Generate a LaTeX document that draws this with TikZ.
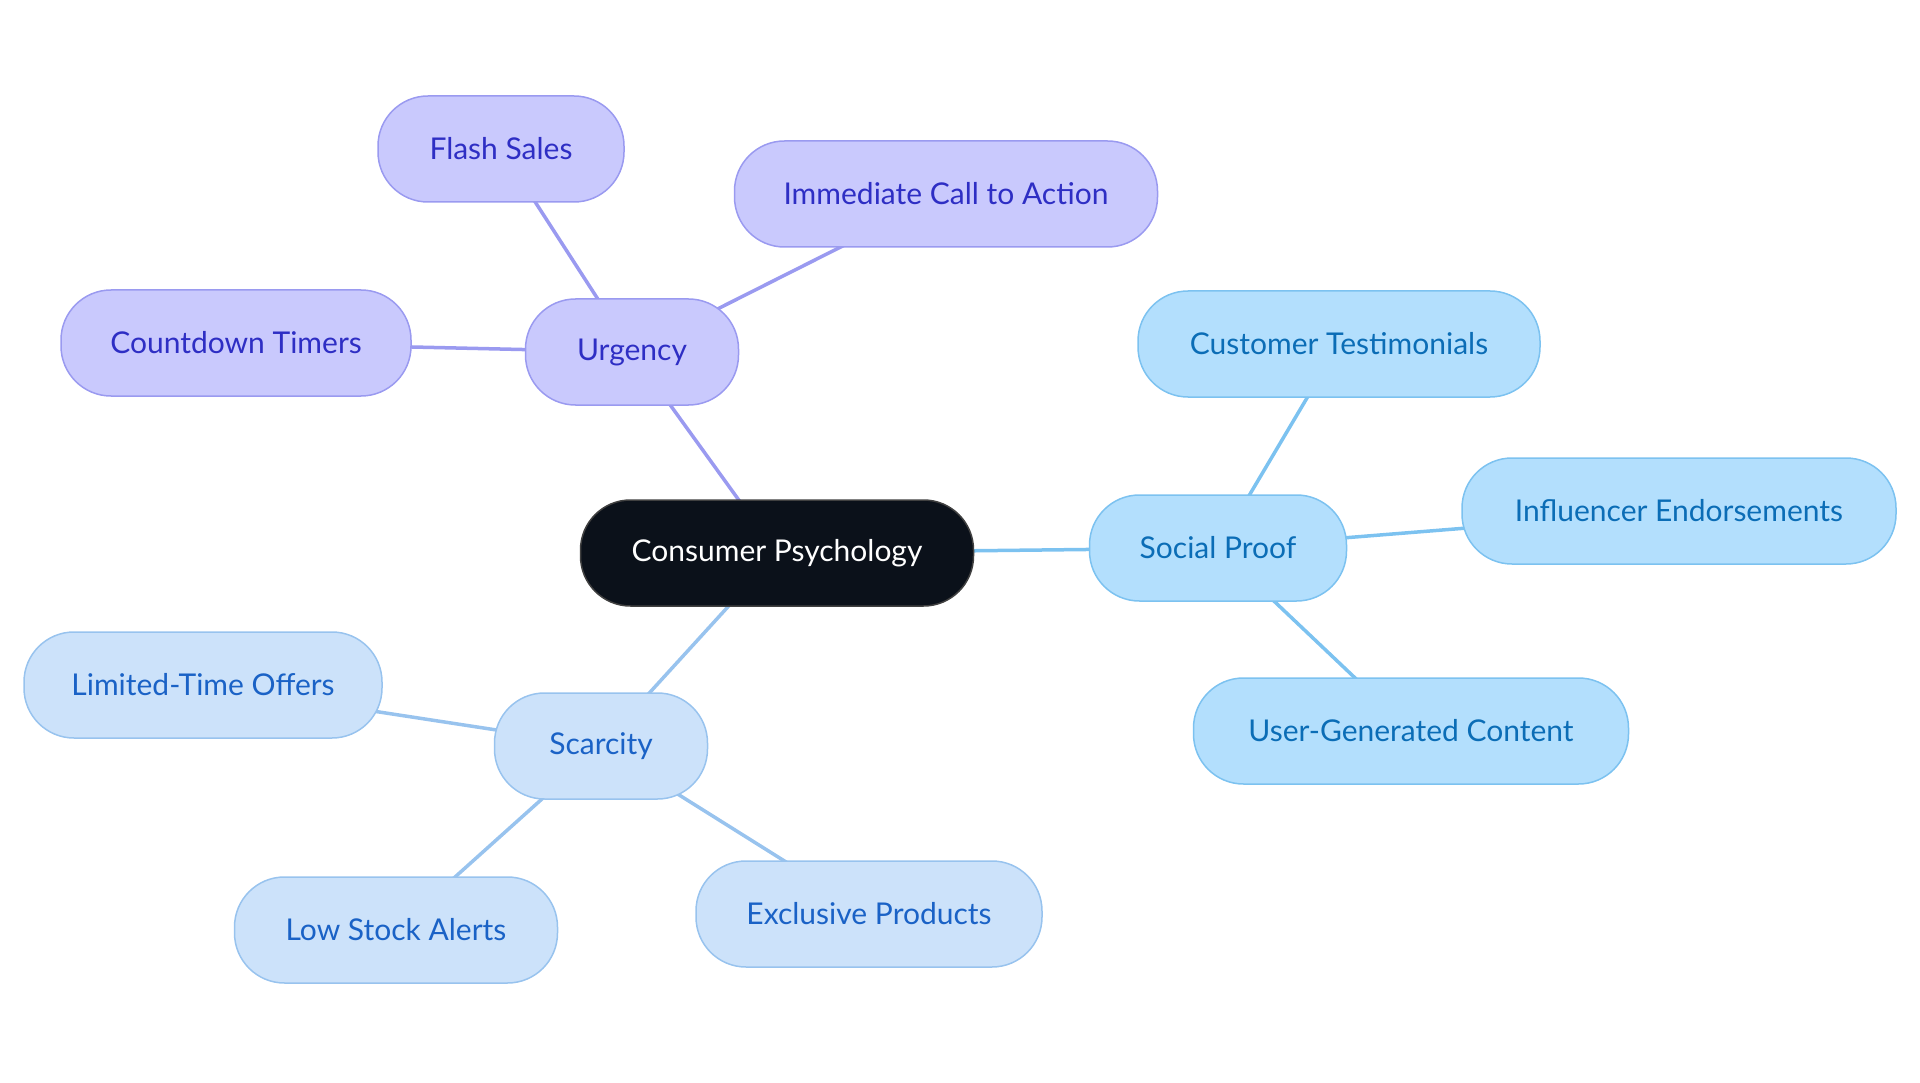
\documentclass[tikz,border=0pt]{standalone}
\usepackage{fontspec}
\setmainfont{Lato}
\usetikzlibrary{backgrounds}
\definecolor{urgfill}{HTML}{C9C9FD}
\definecolor{urgline}{HTML}{9A9AF0}
\definecolor{urgtext}{HTML}{2E2EC4}
\definecolor{socfill}{HTML}{B3DFFD}
\definecolor{socline}{HTML}{7CC2F0}
\definecolor{soctext}{HTML}{0B6DB6}
\definecolor{scafill}{HTML}{CCE2FA}
\definecolor{scaline}{HTML}{98C3EE}
\definecolor{scatext}{HTML}{1A62C6}
\definecolor{rootfill}{HTML}{0B111A}
\begin{document}
\begin{tikzpicture}[x=1pt,y=-1pt,
  pill/.style={rectangle, rounded corners=50pt, minimum height=106pt, inner sep=0pt,
    line width=1.5pt, font=\fontsize{30}{36}\selectfont},
  rootbox/.style={pill, fill=rootfill, draw=black!75, text=white},
  urgbox/.style={pill, fill=urgfill, draw=urgline, text=urgtext},
  socbox/.style={pill, fill=socfill, draw=socline, text=soctext},
  scabox/.style={pill, fill=scafill, draw=scaline, text=scatext},
  link/.style={line width=3.5pt}]
\useasboundingbox (0,0) rectangle (1920,1083);
\node[rootbox, minimum width=393pt] (root) at (777,553) {Consumer Psychology};
% urgency branch
\node[urgbox, minimum width=213pt] (urg) at (632,352) {Urgency};
\node[urgbox, minimum width=246pt] (flash) at (501,149) {Flash Sales};
\node[urgbox, minimum width=423pt] (call) at (946,194) {Immediate Call to Action};
\node[urgbox, minimum width=350pt] (timer) at (236,343) {Countdown Timers};
% social proof branch
\node[socbox, minimum width=257pt] (soc) at (1218,548) {Social Proof};
\node[socbox, minimum width=402pt] (testi) at (1339,344) {Customer Testimonials};
\node[socbox, minimum width=434pt] (infl) at (1679,511) {Influencer Endorsements};
\node[socbox, minimum width=435pt] (ugc) at (1411,731) {User-Generated Content};
% scarcity branch
\node[scabox, minimum width=213pt] (sca) at (601,746) {Scarcity};
\node[scabox, minimum width=358pt] (ltd) at (203,685) {Limited-Time Offers};
\node[scabox, minimum width=323pt] (stock) at (396,930) {Low Stock Alerts};
\node[scabox, minimum width=346pt] (excl) at (869,914) {Exclusive Products};
\begin{scope}[on background layer]
\draw[link, urgline] (root.center) -- (urg.center);
\draw[link, urgline] (urg.center) -- (flash.center);
\draw[link, urgline] (urg.center) -- (call.center);
\draw[link, urgline] (urg.center) -- (timer.center);
\draw[link, socline] (root.center) -- (soc.center);
\draw[link, socline] (soc.center) -- (testi.center);
\draw[link, socline] (soc.center) -- (infl.center);
\draw[link, socline] (soc.center) -- (ugc.center);
\draw[link, scaline] (root.center) -- (sca.center);
\draw[link, scaline] (sca.center) -- (ltd.center);
\draw[link, scaline] (sca.center) -- (stock.center);
\draw[link, scaline] (sca.center) -- (excl.center);
\end{scope}
\end{tikzpicture}
\end{document}
